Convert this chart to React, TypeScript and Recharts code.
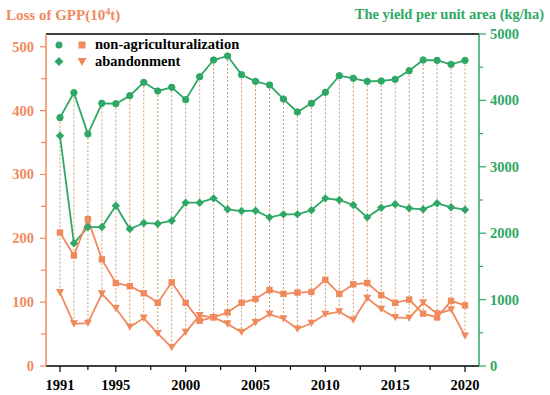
import React from 'react';
import { ComposedChart, Line, Bar, XAxis, YAxis, ReferenceLine } from 'recharts';

const years = [1991,1992,1993,1994,1995,1996,1997,1998,1999,2000,2001,2002,2003,2004,2005,2006,2007,2008,2009,2010,2011,2012,2013,2014,2015,2016,2017,2018,2019,2020];
const gppNonAgri = [209,173,230,167,130,125,114,99,131,99,71,76,84,99,105,119,113,115,116,135,113,128,130,111,99,104,82,76,102,95];
const gppAbandon = [115,66,67,113,90,61,75,51,29,53,79,76,66,53,68,81,74,58,67,81,85,72,106,89,76,75,99,82,88,47];
const yieldNonAgri = [3740,4116,3494,3956,3950,4071,4272,4141,4197,4011,4357,4608,4669,4387,4287,4232,4020,3825,3956,4122,4372,4333,4287,4292,4317,4447,4608,4603,4543,4603];
const yieldAbandon = [3468,1848,2093,2093,2414,2063,2153,2143,2188,2459,2459,2525,2359,2334,2339,2239,2284,2284,2345,2525,2500,2425,2239,2384,2435,2375,2359,2450,2390,2354];

const xTicks = [1991,1993,1995,1997.5,2000,2002.5,2005,2007.5,2010,2012.5,2015,2017.5,2020];
const xLabels = [1991,1995,2000,2005,2010,2015,2020];
const leftTicks = [0,50,100,150,200,250,300,350,400,450,500];
const leftLabels = [0,100,200,300,400,500];
const rightTicks = [0,500,1000,1500,2000,2500,3000,3500,4000,4500,5000];
const rightLabels = [0,1000,2000,3000,4000,5000];

const LEFT_MAX = 520;
const RIGHT_MAX = 5000;

const ORANGE = '#F08A5D';
const GREEN = '#2FA866';
const DROP = '#CF9A6C';
const FONT = '"Liberation Serif", "Times New Roman", serif';
const serif: React.CSSProperties = { fontFamily: FONT, fontWeight: 'bold' };

const data = years.map((y, i) => {
  const vals = [gppNonAgri[i] * RIGHT_MAX / LEFT_MAX, gppAbandon[i] * RIGHT_MAX / LEFT_MAX, yieldNonAgri[i], yieldAbandon[i]];
  return {
    year: y,
    gppNonAgri: gppNonAgri[i],
    gppAbandon: gppAbandon[i],
    yieldNonAgri: yieldNonAgri[i],
    yieldAbandon: yieldAbandon[i],
    drop: [Math.min(...vals), Math.max(...vals)],
  };
});

const XTick = (props: any) => {
  const { x, y, payload } = props;
  const major = xLabels.includes(payload.value);
  return (
    <g>
      <line x1={x} x2={x} y1={y} y2={y + (major ? 6 : 4)} stroke="#000" strokeWidth={1.2} />
      {major && (
        <text x={x} y={y + 24} textAnchor="middle" style={serif} fontSize={14.5} fill="#000">
          {payload.value}
        </text>
      )}
    </g>
  );
};

const LeftTick = (props: any) => {
  const { x, y, payload } = props;
  const major = leftLabels.includes(payload.value);
  return (
    <g>
      <line x1={x} x2={x - (major ? 6 : 5)} y1={y} y2={y} stroke={ORANGE} strokeWidth={1.2} />
      {major && (
        <text x={x - 12} y={y + 5} textAnchor="end" style={serif} fontSize={14.5} fill={ORANGE}>
          {payload.value}
        </text>
      )}
    </g>
  );
};

const RightTick = (props: any) => {
  const { x, y, payload } = props;
  const major = rightLabels.includes(payload.value);
  return (
    <g>
      <line x1={x} x2={x + (major ? 7 : 4)} y1={y} y2={y} stroke={GREEN} strokeWidth={1.2} />
      {major && (
        <text x={x + 11} y={y + 5} textAnchor="start" style={serif} fontSize={14.5} fill={GREEN}>
          {payload.value}
        </text>
      )}
    </g>
  );
};

const DropShape = (props: any) => {
  const { x, y, width, height } = props;
  const cx = x + width / 2;
  return <line x1={cx} x2={cx} y1={y} y2={y + height} stroke={DROP} strokeWidth={1} strokeDasharray="2 2" />;
};

const circleDot = (p: any) => <circle key={`c${p.index}`} cx={p.cx} cy={p.cy} r={3.2} fill={GREEN} stroke={GREEN} />;
const diamondDot = (p: any) => (
  <polygon key={`d${p.index}`} points={`${p.cx},${p.cy - 4.2} ${p.cx + 4.2},${p.cy} ${p.cx},${p.cy + 4.2} ${p.cx - 4.2},${p.cy}`} fill={GREEN} />
);
const squareDot = (p: any) => <rect key={`s${p.index}`} x={p.cx - 3.2} y={p.cy - 3.2} width={6.4} height={6.4} fill={ORANGE} />;
const triDot = (p: any) => (
  <polygon key={`t${p.index}`} points={`${p.cx - 4},${p.cy - 3.5} ${p.cx + 4},${p.cy - 3.5} ${p.cx},${p.cy + 3.8}`} fill={ORANGE} />
);

export default function App() {
  return (
    <div style={{ position: 'absolute', left: 0, top: 0, width: 550, height: 395, background: '#fff' }}>
      <ComposedChart width={550} height={395} data={data} margin={{ top: 34, right: 0, bottom: 0, left: 0 }}>
        <XAxis
          dataKey="year"
          type="number"
          domain={[1990, 2021]}
          ticks={xTicks}
          interval={0}
          tickSize={0}
          tickMargin={0}
          tickLine={false}
          tick={<XTick />}
          height={29}
          axisLine={{ stroke: '#000', strokeWidth: 1.5 }}
          allowDecimals
        />
        <YAxis
          yAxisId="left"
          orientation="left"
          domain={[0, LEFT_MAX]}
          ticks={leftTicks}
          interval={0}
          width={46}
          tickSize={0}
          tickMargin={0}
          tickLine={false}
          tick={<LeftTick />}
          axisLine={{ stroke: ORANGE, strokeWidth: 1.5 }}
        />
        <YAxis
          yAxisId="right"
          orientation="right"
          domain={[0, RIGHT_MAX]}
          ticks={rightTicks}
          interval={0}
          width={71}
          tickSize={0}
          tickMargin={0}
          tickLine={false}
          tick={<RightTick />}
          axisLine={{ stroke: GREEN, strokeWidth: 1.5 }}
        />
        <ReferenceLine yAxisId="left" y={LEFT_MAX} stroke="#000" strokeWidth={1.5} />
        <Bar yAxisId="right" dataKey="drop" barSize={2} shape={<DropShape />} isAnimationActive={false} />
        <Line yAxisId="right" dataKey="yieldNonAgri" stroke={GREEN} strokeWidth={1.8} dot={circleDot} activeDot={false} isAnimationActive={false} />
        <Line yAxisId="right" dataKey="yieldAbandon" stroke={GREEN} strokeWidth={1.8} dot={diamondDot} activeDot={false} isAnimationActive={false} />
        <Line yAxisId="left" dataKey="gppNonAgri" stroke={ORANGE} strokeWidth={1.8} dot={squareDot} activeDot={false} isAnimationActive={false} />
        <Line yAxisId="left" dataKey="gppAbandon" stroke={ORANGE} strokeWidth={1.8} dot={triDot} activeDot={false} isAnimationActive={false} />
      </ComposedChart>
      <svg width={550} height={395} style={{ position: 'absolute', left: 0, top: 0, pointerEvents: 'none' }}>
        <text x={6} y={19.5} style={serif} fontSize={15} fill={ORANGE}>
          Loss of GPP(10<tspan dy={-5} fontSize={10}>4</tspan><tspan dy={5}>t)</tspan>
        </text>
        <text x={544} y={19} textAnchor="end" style={serif} fontSize={14.5} fill={GREEN}>
          The yield per unit area (kg/ha)
        </text>
        <circle cx={59} cy={45} r={3.5} fill={GREEN} />
        <rect x={78.5} y={41.5} width={7} height={7} fill={ORANGE} />
        <text x={95} y={48.5} style={serif} fontSize={14.5} fill="#000">non-agriculturalization</text>
        <polygon points="59,57 63.5,61.5 59,66 54.5,61.5" fill={GREEN} />
        <polygon points="77.5,58 86.5,58 82,66" fill={ORANGE} />
        <text x={95} y={65.5} style={serif} fontSize={14.5} fill="#000">abandonment</text>
      </svg>
    </div>
  );
}
